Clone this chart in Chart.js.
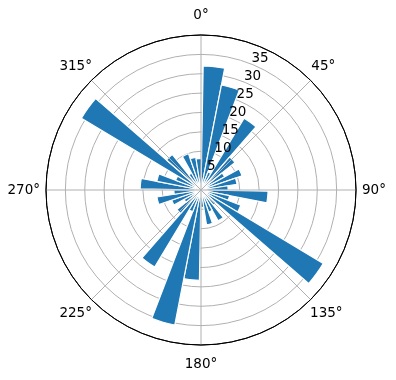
<!DOCTYPE html>
<html>
<head>
<meta charset="utf-8">
<script src="https://cdn.jsdelivr.net/npm/chart.js@4/dist/chart.umd.min.js"></script>
<style>
  html, body { margin: 0; padding: 0; background: #fff; }
  #wrap { width: 396px; height: 380px; position: relative; }
</style>
</head>
<body>
<div id="wrap"><canvas id="chart"></canvas></div>
<script>
// direction bins, 10 degrees each, clockwise from north
var binLabels = ['0°', '10°', '20°', '30°', '40°', '50°', '60°', '70°', '80°',
                 '90°', '100°', '110°', '120°', '130°', '140°', '150°', '160°', '170°',
                 '180°', '190°', '200°', '210°', '220°', '230°', '240°', '250°', '260°',
                 '270°', '280°', '290°', '300°', '310°', '320°', '330°', '340°', '350°'];
var counts = [32, 27.6, 5, 21.6, 11.3, 7, 11.2, 9.4, 7,
              17.3, 7.5, 11, 36.8, 5, 9.1, 6, 9.1, 4.5,
              23.3, 35.5, 6, 23.2, 8, 5, 8, 11.5, 7,
              15.7, 11.6, 7, 36, 11.8, 5, 9.9, 8.5, 8.1];
var angleTicks = [0, 45, 90, 135, 180, 225, 270, 315];
var angleTickLabels = ['0°', '45°', '90°', '135°', '180°', '225°', '270°', '315°'];
var radialMax = 40;
var radialStep = 5;

var FONT = '13.5px "DejaVu Sans", sans-serif';

// matplotlib-ish polar frame: spokes every 45 deg, theta labels, r labels at 22.5 deg
var polarFrame = {
  id: 'polarFrame',
  afterDraw: function(chart) {
    var r = chart.scales.r;
    var ctx = chart.ctx;
    var cx = r.xCenter, cy = r.yCenter, R = r.drawingArea;
    ctx.save();
    ctx.strokeStyle = '#b0b0b0';
    ctx.lineWidth = 1;
    angleTicks.forEach(function(deg) {
      var a = deg * Math.PI / 180;
      ctx.beginPath();
      ctx.moveTo(cx, cy);
      ctx.lineTo(cx + R * Math.sin(a), cy - R * Math.cos(a));
      ctx.stroke();
    });
    ctx.strokeStyle = '#000';
    ctx.beginPath();
    ctx.arc(cx, cy, R, 0, 2 * Math.PI);
    ctx.stroke();

    ctx.font = FONT;
    ctx.fillStyle = '#000';
    ctx.textAlign = 'center';
    ctx.textBaseline = 'middle';
    angleTicks.forEach(function(deg, i) {
      var a = deg * Math.PI / 180;
      var w = ctx.measureText(angleTickLabels[i]).width;
      var x = cx + Math.sin(a) * (R + 6) + Math.sin(a) * w / 2;
      var y = cy - Math.cos(a) * (R + 19.5);
      ctx.fillText(angleTickLabels[i], x, y);
    });

    ctx.textAlign = 'left';
    ctx.textBaseline = 'bottom';
    var la = 22.5 * Math.PI / 180;
    r.ticks.forEach(function(t) {
      if (t.value <= 0 || t.value >= r.max) return;
      var d = r.getDistanceFromCenterForValue(t.value);
      ctx.fillText(t.label, cx + d * Math.sin(la) - 1.5, cy - d * Math.cos(la) + 1);
    });
    ctx.restore();
  }
};

new Chart(document.getElementById('chart'), {
  type: 'polarArea',
  data: {
    labels: binLabels,
    datasets: [{
      data: counts,
      backgroundColor: '#1f77b4',
      borderColor: '#ffffff',
      borderWidth: 1.2
    }]
  },
  options: {
    responsive: true,
    maintainAspectRatio: false,
    animation: false,
    layout: { padding: { left: 46, right: 40, top: 35, bottom: 35 } },
    plugins: {
      legend: { display: false },
      tooltip: { enabled: false }
    },
    scales: {
      r: {
        min: 0,
        max: radialMax,
        startAngle: 1,
        z: 1,
        ticks: { display: false, stepSize: radialStep },
        angleLines: { display: false },
        pointLabels: { display: false },
        grid: {
          circular: true,
          color: function(c) { return c.tick && c.tick.value >= radialMax ? '#000' : '#b0b0b0'; },
          lineWidth: 1
        }
      }
    }
  },
  plugins: [polarFrame]
});
</script>
</body>
</html>
